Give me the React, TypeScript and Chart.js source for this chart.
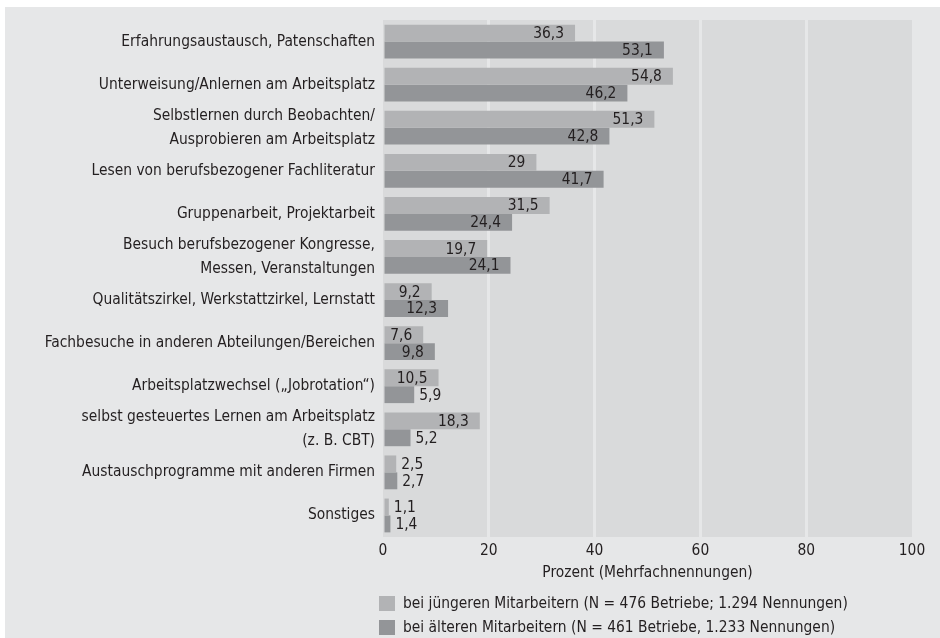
import React, { useEffect, useRef } from "react";
import { Chart, registerables } from "chart.js";

Chart.register(...registerables);

const categories: (string | string[])[] = [
  "Erfahrungsaustausch, Patenschaften",
  "Unterweisung/Anlernen am Arbeitsplatz",
  ["Selbstlernen durch Beobachten/", "Ausprobieren am Arbeitsplatz"],
  "Lesen von berufsbezogener Fachliteratur",
  "Gruppenarbeit, Projektarbeit",
  ["Besuch berufsbezogener Kongresse,", "Messen, Veranstaltungen"],
  "Qualitätszirkel, Werkstattzirkel, Lernstatt",
  "Fachbesuche in anderen Abteilungen/Bereichen",
  "Arbeitsplatzwechsel („Jobrotation“)",
  ["selbst gesteuertes Lernen am Arbeitsplatz", "(z. B. CBT)"],
  "Austauschprogramme mit anderen Firmen",
  "Sonstiges",
];

const youngerValues = [36.3, 54.8, 51.3, 29, 31.5, 19.7, 9.2, 7.6, 10.5, 18.3, 2.5, 1.1];
const olderValues = [53.1, 46.2, 42.8, 41.7, 24.4, 24.1, 12.3, 9.8, 5.9, 5.2, 2.7, 1.4];

const xTicks = [0, 20, 40, 60, 80, 100];

const seriesLabels = [
  "bei jüngeren Mitarbeitern (N = 476 Betriebe; 1.294 Nennungen)",
  "bei älteren Mitarbeitern (N = 461 Betriebe, 1.233 Nennungen)",
];

const axisTitle = "Prozent (Mehrfachnennungen)";

const FONT = "'DejaVu Sans Condensed', 'Liberation Sans', sans-serif";
const FS = 15.4;
const TEXT = "#231f20";
const PANEL = "#e6e7e8";
const PLOT_BG = "#d9dadb";
const LIGHT = "#b2b3b5";
const DARK = "#939598";

const backgroundPlugin = {
  id: "bgPanel",
  beforeDraw(chart: any) {
    const { ctx, chartArea } = chart;
    ctx.save();
    ctx.fillStyle = PANEL;
    ctx.fillRect(5, 7, chart.width - 5, chart.height - 7);
    ctx.fillStyle = PLOT_BG;
    ctx.fillRect(chartArea.left, chartArea.top, chartArea.right - chartArea.left, chartArea.bottom - chartArea.top);
    ctx.restore();
  },
};

const valueLabelPlugin = {
  id: "valueLabels",
  afterDatasetsDraw(chart: any) {
    const { ctx } = chart;
    ctx.save();
    ctx.font = `${FS}px ${FONT}`;
    ctx.fillStyle = TEXT;
    ctx.textBaseline = "middle";
    chart.data.datasets.forEach((ds: any, di: number) => {
      const meta = chart.getDatasetMeta(di);
      meta.data.forEach((bar: any, i: number) => {
        const v = ds.data[i] as number;
        const text = String(v).replace(".", ",");
        const w = ctx.measureText(text).width;
        const len = bar.x - bar.base;
        if (len >= w + 15) {
          ctx.textAlign = "right";
          ctx.fillText(text, bar.x - 11, bar.y + 1);
        } else {
          ctx.textAlign = "left";
          ctx.fillText(text, bar.x + 5, bar.y + 1);
        }
      });
    });
    ctx.restore();
  },
};

const legendPlugin = {
  id: "customLegend",
  afterDraw(chart: any) {
    const { ctx } = chart;
    ctx.save();
    ctx.font = `${FS}px ${FONT}`;
    ctx.textBaseline = "middle";
    ctx.textAlign = "left";
    chart.data.datasets.forEach((ds: any, di: number) => {
      const top = 596 + di * 24;
      ctx.fillStyle = ds.backgroundColor;
      ctx.fillRect(379, top, 16, 15);
      ctx.fillStyle = TEXT;
      ctx.fillText(ds.label, 403, top + 8);
    });
    ctx.restore();
  },
};

export default function App() {
  const canvasRef = useRef<HTMLCanvasElement | null>(null);

  useEffect(() => {
    if (!canvasRef.current) return;
    const chart = new Chart(canvasRef.current, {
      type: "bar",
      data: {
        labels: categories as any,
        datasets: [
          {
            label: seriesLabels[0],
            data: youngerValues,
            backgroundColor: LIGHT,
            borderWidth: 0,
            categoryPercentage: 0.785,
            barPercentage: 1,
          },
          {
            label: seriesLabels[1],
            data: olderValues,
            backgroundColor: DARK,
            borderWidth: 0,
            categoryPercentage: 0.785,
            barPercentage: 1,
          },
        ],
      },
      options: {
        indexAxis: "y",
        responsive: false,
        animation: false,
        layout: { padding: { left: 0, right: 28, top: 17, bottom: 55.76 } },
        plugins: {
          legend: { display: false },
          tooltip: { enabled: false },
        },
        scales: {
          x: {
            type: "linear",
            min: 0,
            max: 100,
            afterBuildTicks: (s: any) => {
              s.ticks = xTicks.map((v) => ({ value: v }));
            },
            ticks: {
              font: { family: FONT, size: FS },
              color: TEXT,
              padding: 5,
            },
            grid: {
              color: (c: any) =>
                c.tick && (c.tick.value === 0 || c.tick.value === 100) ? "rgba(0,0,0,0)" : PANEL,
              lineWidth: 3,
              drawTicks: false,
            },
            border: { display: false },
            title: {
              display: true,
              text: axisTitle,
              color: TEXT,
              font: { family: FONT, size: FS },
              padding: { top: 4, bottom: 0 },
            },
            afterFit: (s: any) => {
              s.height = 45.24;
            },
          },
          y: {
            ticks: {
              autoSkip: false,
              font: { family: FONT, size: FS, lineHeight: 24 / FS },
              color: TEXT,
              padding: 8,
            },
            grid: { display: false, drawTicks: false },
            border: { display: false },
            afterFit: (s: any) => {
              s.width = 383;
            },
          },
        },
      },
      plugins: [backgroundPlugin, valueLabelPlugin, legendPlugin],
    });
    return () => chart.destroy();
  }, []);

  return (
    <div style={{ position: "absolute", left: 0, top: 0, width: 940, height: 638, background: "#ffffff" }}>
      <canvas ref={canvasRef} width={940} height={638} style={{ display: "block" }} />
    </div>
  );
}
